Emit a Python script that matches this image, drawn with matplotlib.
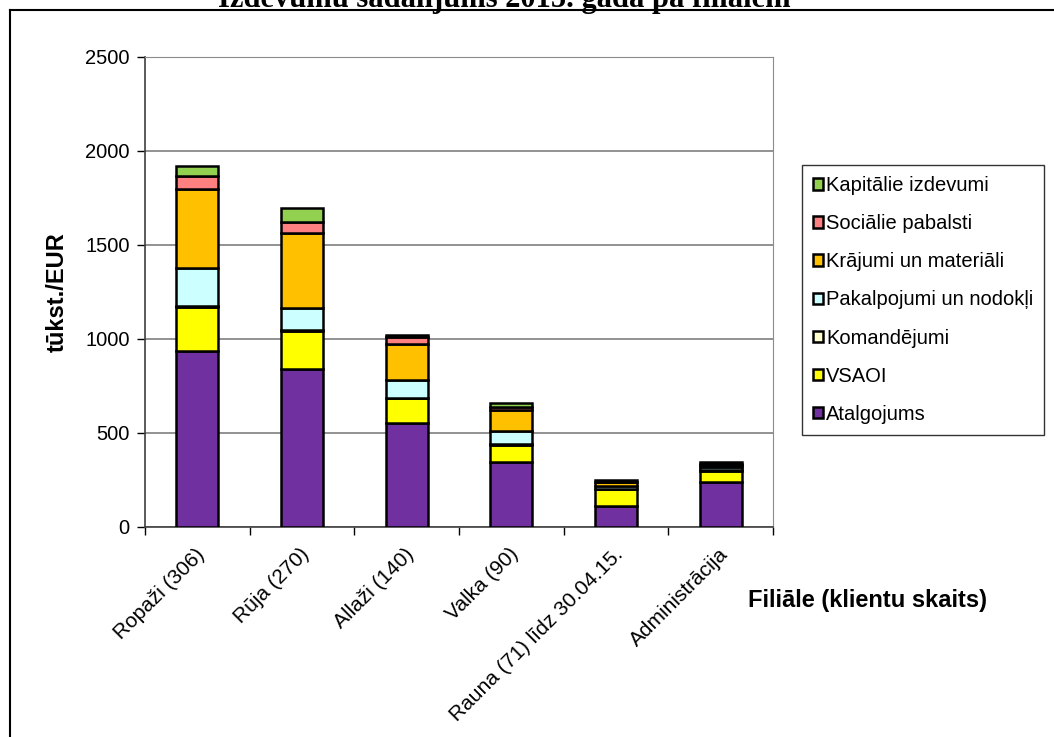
import matplotlib.pyplot as plt
import numpy as np
from matplotlib.lines import Line2D
from matplotlib.transforms import ScaledTranslation

plt.rcParams['font.family'] = ['Liberation Sans', 'DejaVu Sans']

# Data (tūkst. EUR)
branches = ['Ropaži (306)', 'Rūja (270)', 'Allaži (140)', 'Valka (90)',
            'Rauna (71) līdz 30.04.15.', 'Administrācija']
series = ['Atalgojums', 'VSAOI', 'Komandējumi', 'Pakalpojumi un nodokļi',
          'Krājumi un materiāli', 'Sociālie pabalsti', 'Kapitālie izdevumi']
atalgojums = [936, 840, 551, 348, 112, 241]
vsaoi = [236, 205, 133, 88, 88, 59]
komandejumi = [4, 3, 3, 3, 3, 3]
pakalpojumi = [200, 119, 95, 72, 15, 18]
krajumi = [422, 395, 191, 111, 20, 10]
socialie = [71, 60, 36, 16, 4, 3]
kapitalie = [51, 73, 12, 20, 8, 10]
colors = ['#7030A0', '#FFFF00', '#FFFFCC', '#CCFFFF', '#FFC000', '#FF8080', '#92D050']

values = [atalgojums, vsaoi, komandejumi, pakalpojumi, krajumi, socialie, kapitalie]

fig = plt.figure(figsize=(10.54, 7.37), dpi=100)
ax = fig.add_axes([145 / 1054, 1 - 527 / 737, 628 / 1054, 470 / 737])

x = np.arange(len(branches))
bottom = np.zeros(len(branches))
handles = []
for name, vals, col in zip(series, values, colors):
    b = ax.bar(x, vals, 0.4, bottom=bottom, color=col, edgecolor='black',
               linewidth=1.8, label=name, zorder=3)
    bottom += np.array(vals)
    handles.append(b)

ax.set_xlim(-0.5, len(branches) - 0.5)
ax.set_ylim(0, 2500)
ax.set_yticks(range(0, 2501, 500))
ax.yaxis.grid(True, color='#7f7f7f', linewidth=1.2, zorder=0)
ax.tick_params(axis='y', labelsize=14.5, length=6, width=1, direction='out', pad=5)
for s in ['top', 'right']:
    ax.spines[s].set_color('#8c8c8c')
for s in ['left', 'bottom']:
    ax.spines[s].set_color('#404040')
    ax.spines[s].set_linewidth(1.2)

ax.set_xticks(x)
ax.set_xticklabels(branches, rotation=45, ha='right', va='center',
                   rotation_mode='anchor', fontsize=15)
ax.tick_params(axis='x', which='major', length=0, pad=17.5)
shift = ScaledTranslation(0.04, 0, fig.dpi_scale_trans)
for lbl in ax.get_xticklabels():
    lbl.set_transform(lbl.get_transform() + shift)
ax.set_xticks(np.arange(-0.5, len(branches)), minor=True)
ax.tick_params(axis='x', which='minor', length=6, width=1, direction='out')

ax.set_ylabel('tūkst./EUR', fontsize=17, fontweight='bold', labelpad=12)
fig.text(867 / 1054, 1 - 600 / 737, 'Filiāle (klientu skaits)', fontsize=17,
         fontweight='bold', ha='center', va='center')

leg = fig.legend(handles[::-1], series[::-1], loc='upper left',
                 bbox_to_anchor=(802 / 1054, 1 - 165 / 737), frameon=True,
                 fancybox=False, edgecolor='black', fontsize=14.5,
                 handlelength=0.5, handleheight=0.5, handletextpad=0.15,
                 labelspacing=0.95, borderpad=0.55, borderaxespad=0)
leg.get_frame().set_linewidth(1)

# title cut at the top edge
fig.text(504 / 1054, 1 - 7 / 737, 'Izdevumu sadalījums 2015. gadā pa filiālēm',
         fontsize=22, fontweight='bold', family='Liberation Serif',
         ha='center', va='baseline')

# outer chart frame
fig.add_artist(Line2D([10 / 1054, 1], [1 - 10 / 737, 1 - 10 / 737], color='black', linewidth=1.5))
fig.add_artist(Line2D([10 / 1054, 10 / 1054], [0, 1 - 10 / 737], color='black', linewidth=1.5))

fig.savefig('out.png', dpi=100)
